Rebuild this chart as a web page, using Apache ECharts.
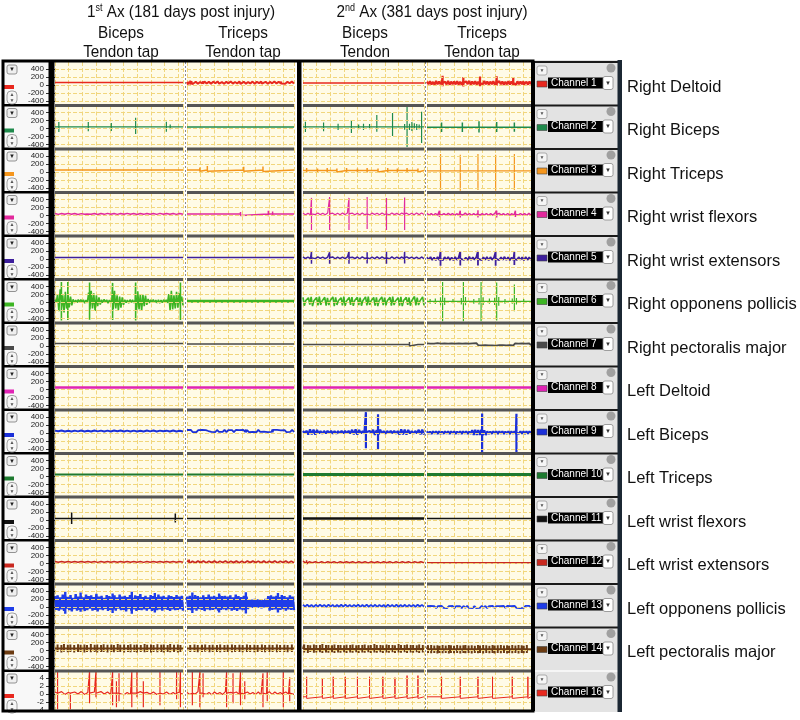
<!DOCTYPE html>
<html><head><meta charset="utf-8">
<script src="https://cdn.jsdelivr.net/npm/echarts@6/dist/echarts.min.js"></script>
<style>html,body{margin:0;padding:0;background:#fff}#c{width:800px;height:720px}</style>
</head><body><div id="c"></div><script>
// ---------------- DATA ----------------
const muscles = ['Right Deltoid','Right Biceps','Right Triceps','Right wrist flexors','Right wrist extensors','Right opponens pollicis','Right pectoralis major','Left Deltoid','Left Biceps','Left Triceps','Left wrist flexors','Left wrist extensors','Left opponens pollicis','Left pectoralis major',''];
const channels = ['Channel 1','Channel 2','Channel 3','Channel 4','Channel 5','Channel 6','Channel 7','Channel 8','Channel 9','Channel 10','Channel 11','Channel 12','Channel 13','Channel 14','Channel 16'];
const traceColors = ['#e8281e','#1f8a4c','#f5961d','#e2299c','#3d1f9c','#3db523','#4a4a4a','#e024b4','#1b30d8','#1e7a30','#111111','#c9281f','#1f3de8','#6b3b12','#e8281e'];
const emgTicks = [-400,-200,0,200,400];
const ch16Ticks = [-4,-2,0,2,4];
const titleLines = ['1{s|st} Ax (181 days post injury)','2{s|nd} Ax (381 days post injury)'];
const condLine1 = ['Biceps','Triceps','Biceps','Triceps'];
const condLine2 = ['Tendon tap','Tendon tap','Tendon','Tendon tap'];

const baselines = [
 [60,60,50,50],[40,40,40,30],[50,50,40,30],[40,40,40,30],[40,40,30,10],
 [30,30,30,30],[60,50,40,40],[50,50,50,50],[50,50,20,10],[50,50,50,50],
 [40,40,40,40],[40,40,30,20],[80,80,30,0],[50,50,40,30],[0.2,0.2,-0.7,-0.7]
];
const lineWidths = [
 [1.5,2,1.5,2.2],[1.2,1.5,1.2,1.5],[1.5,1.5,1.5,1.2],[1.5,1.5,1.2,1.5],[1.5,1.5,1.5,1.8],
 [1.6,3,1.6,1.2],[1.5,1.5,1.5,1.8],[2.5,2.5,2.5,2.5],[2,1.8,2.2,2.2],[2,2,3,3],
 [1.5,1.5,2.5,1.5],[1.5,1.8,1.5,1.5],[2.4,2.4,1.8,1.8],[2,2,2,2],[1.2,1.2,1,1]
];

// spikes: [x% of column, up, down] relative to baseline
const spikesR1 = [
 [[3,40,-30],[20,25,-20],[45,20,-20],[64,25,-25],[92,20,-15]],
 [[1,60,-50],[3,50,-45],[5,45,-40],[15,30,-25],[30,30,-25],[50,35,-30],[70,30,-25],[88,30,-25]],
 [[30,20,-15],[60,20,-15],[85,15,-15]],
 [[15,180,-80],[35,150,-90],[51,160,-80],[67,170,-70],[83,140,-70],[93,80,-40]]
];
const spikesR2 = [
 [[3,125,-125],[26,125,-110],[44,100,-100],[63,230,-180],[87,130,-120],[90,60,-60]],
 [[5,30,-30],[40,25,-20],[75,25,-20]],
 [[2,130,-130],[17,110,-110],[29,80,-80],[40,170,-150],[46,60,-60],[50,80,-80],[55,70,-60],[61,300,-120],[74,350,-230],[84,70,-70],[86,500,-500],[88,80,-80],[90,120,-100],[92,90,-60],[94,70,-80],[96,60,-60],[98,380,-400]],
 [[14,120,-120],[34,120,-120],[50,150,-130],[67,130,-120],[84,120,-110]]
];
const spikesR3 = [
 [[10,20,-20],[40,20,-15],[70,20,-20]],
 [[12,60,-30],[19,100,-30],[53,80,-30],[71,90,-40]],
 [[3,60,-50],[12,50,-50],[20,60,-50],[28,50,-40],[36,60,-50],[45,50,-50],[53,60,-50],[62,50,-40],[70,60,-50],[78,50,-50],[86,60,-50],[95,50,-40]],
 [[13,420,-480],[32,400,-500],[49,420,-480],[66,400,-500],[84,420,-480]]
];
const spikesR4 = [
 [[25,25,-20],[60,20,-20]],
 [[20,40,-30],[50,50,-40],[76,80,-60],[80,60,-50]],
 [[7,400,-400],[22,420,-400],[38,400,-400],[53,420,-380],[69,400,-400],[84,410,-400]],
 [[12,90,-70],[32,90,-80],[49,100,-80],[67,90,-80],[85,90,-70]]
];
const spikesR5 = [
 [],[],
 [[7,150,-150],[22,140,-150],[38,150,-150],[53,140,-140],[69,150,-150],[84,150,-140]],
 [[13,180,-180],[32,180,-170],[49,190,-170],[66,170,-180],[84,170,-160]]
];
const spikesR6 = [
 [[5,480,-480],[10,480,-470],[27,470,-460],[45,460,-470],[63,470,-480],[98,470,-470]],
 [],
 [],
 [[3,60,-60],[8,70,-70],[13,100,-100],[15,480,-500],[17,90,-90],[25,60,-50],[33,80,-80],[35,480,-500],[37,110,-100],[45,60,-60],[50,80,-80],[52,480,-500],[54,100,-90],[60,70,-60],[65,90,-90],[67,470,-480],[69,110,-110],[75,60,-60],[82,70,-60],[84,420,-250],[86,80,-80],[93,60,-60]]
];
const spikesR7 = [
 [[2,25,-20],[8,20,-20],[14,25,-20],[20,20,-15],[26,25,-20],[32,20,-20],[38,25,-20],[44,20,-15],[50,25,-20],[56,20,-20],[62,25,-20],[68,20,-15],[74,25,-20],[80,20,-20],[86,25,-20],[92,20,-15],[98,25,-20]],
 [[1,40,-30],[3,35,-35],[6,40,-30],[10,30,-30],[18,25,-25],[28,25,-20],[38,25,-25],[48,25,-20],[58,25,-25],[68,25,-20],[78,25,-25],[88,25,-20],[96,25,-25]],
 [[5,25,-20],[12,20,-20],[19,25,-20],[26,20,-20],[33,25,-20],[40,20,-20],[47,25,-20],[54,20,-20],[61,25,-20],[68,20,-20],[75,25,-20],[82,20,-20],[88,60,-40],[95,25,-20]],
 []
];
const spikesR8 = [[],[],[],[]];
const spikesR9 = [[],[[20,40,-30],[55,35,-30],[80,40,-30]],[[52,500,-400],[62,450,-420]],[[53,480,-520],[86,470,-520]]];
const spikesR10 = [[],[],[],[]];
const spikesR11 = [[[13,150,-140],[30,20,-20],[55,20,-15],[94,120,-100]],[],[],[]];
const spikesR12 = [[],[[2,60,-40]],[[3,50,-40]],[]];
const spikesR13 = [[[8,300,-250],[20,280,-200],[45,260,-230],[60,300,-250],[78,270,-220]],[[5,280,-230],[30,260,-220],[55,290,-240],[85,270,-220]],[],[]];
const spikesR14 = [
 [[2,100,-90],[5,90,-100],[7,110,-80],[10,95,-95],[12,100,-90],[15,85,-100],[18,105,-90],[20,95,-85],[23,100,-100],[25,90,-90],[28,110,-95],[31,95,-85],[33,100,-100],[36,90,-90],[38,105,-85],[41,95,-100],[44,100,-90],[46,90,-95],[49,110,-90],[51,95,-85],[54,100,-100],[57,90,-90],[59,105,-95],[62,95,-85],[64,100,-100],[67,90,-90],[70,110,-95],[72,95,-85],[75,100,-100],[77,90,-90],[80,105,-95],[83,95,-85],[85,100,-100],[88,90,-90],[90,110,-95],[93,95,-85],[96,100,-100],[98,90,-90]],
 [[3,90,-90],[7,100,-85],[10,85,-95],[14,95,-90],[17,100,-80],[21,90,-95],[24,95,-90],[28,85,-85],[31,100,-95],[35,90,-90],[38,95,-85],[42,100,-95],[45,85,-90],[49,95,-85],[52,90,-95],[56,100,-90],[59,85,-85],[63,95,-95],[66,90,-90],[70,100,-85],[73,85,-95],[77,95,-90],[80,90,-85],[84,100,-95],[87,85,-90],[91,95,-85],[94,90,-95],[98,100,-90]],
 [[1,110,-90],[4,100,-100],[6,90,-80],[9,110,-95],[11,95,-90],[14,100,-85],[16,120,-100],[19,95,-90],[21,100,-95],[24,90,-85],[26,110,-100],[29,95,-90],[31,100,-95],[34,90,-85],[36,105,-100],[39,95,-90],[41,110,-95],[44,90,-85],[46,100,-100],[49,95,-90],[51,110,-95],[54,90,-85],[56,100,-100],[59,120,-90],[61,95,-95],[64,100,-85],[66,90,-100],[69,110,-90],[71,95,-95],[74,100,-85],[76,90,-100],[79,120,-90],[81,95,-95],[84,100,-85],[86,110,-100],[89,95,-90],[91,100,-95],[94,90,-85],[96,110,-100],[99,95,-90]],
 [[1,100,-95],[4,110,-100],[7,95,-90],[10,100,-105],[12,90,-95],[15,105,-100],[18,95,-90],[21,110,-105],[23,100,-95],[26,90,-100],[29,105,-90],[32,95,-105],[35,100,-95],[37,110,-100],[40,95,-90],[43,100,-105],[46,90,-95],[49,105,-100],[51,95,-90],[54,110,-105],[57,100,-95],[60,90,-100],[63,105,-90],[65,95,-105],[68,100,-95],[71,110,-100],[74,95,-90],[77,100,-105],[79,90,-95],[82,105,-100],[85,95,-90],[88,110,-105],[91,100,-95],[93,90,-100],[96,105,-90]]
];
const spikesR15 = [
 [[2,5.5,-4],[12,0.5,-4],[27,5.5,-2.5],[32,5.5,-1],[45,5.3,-3],[48,3,-3.5],[50,5,-2],[60,5.3,-3.5],[64,5.3,-1],[69,3,-3.5],[82,5.3,-3],[95,5.5,-1.5],[98,5.5,-3.5]],
 [[5,5.3,-3],[12,5.3,-3.5],[15,5,-1],[37,5.3,-3.5],[43,5,-2.5],[50,5.3,-3],[54,3,-1.5],[71,5,-3.5],[75,5.3,-2],[90,5.3,-3.5],[96,4,-2]],
 [[3,5,-0.4],[16,4.5,-0.4],[25,5,-0.4],[35,5,-0.4],[45,5,-0.4],[55,5,-0.4],[66,5,-0.4],[76,4.8,-0.4],[86,5.3,-0.4],[95,5.3,-0.4]],
 [[14,5,-0.4],[32,5,-0.4],[49,5,-0.4],[63,5,-0.4],[82,5,-0.4],[97,5,-0.4]]
];

// noise: sample deviations spread evenly across the column
const noiseR1 = [[],
 [20,-25,30,-18,22,-30,15,-20,28,-22,18,-26,24,-15,30,-20,12,-28,20,-18,26,-24,16,-22,30,-16,20,-26,14,-20,24,-28,18,-14,26,-22,20,-30,16,-18,28,-20,22,-24,14,-26,20,-16,24,-20],
 [],
 [35,-30,42,-38,28,-45,50,-32,38,-28,45,-40,30,-36,55,-42,34,-30,40,-35,48,-38,32,-44,36,-30,42,-28,50,-40,35,-32,45,-38,30,-42,38,-34,52,-30,40,-36,34,-28,46,-40,32,-38,44,-30,36,-42,30,-34,48,-36,40,-30,35,-44,42,-32,38,-28,45,-36,30,-40,36,-30]];
const noiseR2 = [[],[],[],[]];
const noiseR3 = [[],[],[],[]];
const noiseR4 = [
 [10,-12,8,-10,14,-9,11,-13,7,-10,12,-8,10,-14,9,-11,13,-10,8,-12,11,-9,14,-10,8,-13,10,-11,12,-8,9,-12,13,-10,11,-9,8,-12,10,-10],
 [],
 [18,-20,14,-22,20,-16,24,-18,15,-20,22,-14,18,-24,16,-20,20,-18,25,-15,18,-22,14,-20,22,-18,16,-24,20,-16,18,-20,24,-14,16,-22,20,-18,14,-20,22,-16,18,-20,16,-22,20,-18,24,-16],
 [22,-18,16,-24,20,-20,26,-14,18,-22,24,-16,20,-26,14,-20,22,-18,28,-16,20,-24,16,-20,24,-18,18,-22,20,-26,16,-20,26,-16,22,-18,18,-24,20,-20,14,-22,24,-18,20,-16,18,-24,22,-20]];
const noiseR5 = [[],[],
 [20,-18,15,-22,18,-20,24,-16,16,-20,20,-15,22,-24,18,-18,16,-22,24,-20,15,-18,20,-24,22,-16,18,-20,16,-22,24,-18,20,-15,18,-24,22,-20,16,-18,20,-22,24,-16,18,-20,15,-24,20,-18],
 [35,-30,40,-38,30,-42,45,-35,32,-40,38,-30,44,-36,30,-45,40,-32,36,-40,42,-34,30,-38,46,-36,34,-30,40,-44,32,-38,36,-30,44,-40,38,-32,30,-42,40,-36,34,-30,45,-38,36,-40,30,-34,42,-36,38,-30,34,-44,40,-32,36,-38]];
const noiseR6 = [
 [40,-30,180,-250,300,-200,150,-280,240,-180,200,-150,120,-100,50,-40,30,-35,45,-30,40,-25,35,-45,30,-40,220,-200,260,-180,200,-240,150,-120,100,-80,40,-35,50,-30,35,-45,30,-40,45,-200,260,-180,150,-220,120,-160,100,-90,40,-35,30,-45,40,-30,35,-40,30,-230,250,-200,180,-240,160,-120,140,-90,60,-40,35,-30,45,-35,30,-40,35,-45,30,-35,40,-30,35,-40,180,-220,260,-200,150,-180,240,-160,200,-140,120,-100],
 [],
 [100,-110,20,-15,90,-80,110,-120,15,-20,95,-100,120,-90,10,-15,100,-110,85,-95,20,-10,110,-120,100,-90,15,-20,90,-100,120,-110,10,-15,95,-90,105,-115,20,-10,100,-95,90,-110,15,-20,110,-100,120,-90,10,-15,95,-105,100,-120,20,-10,110,-95,90,-100,15,-20,100,-110,120,-95,10,-15,90,-105,110,-120,20,-10,100,-90,95,-110,15,-20,120,-100,90,-95,10,-15,110,-100],
 []];
const noiseR7 = [[],[],[],
 [25,-22,18,-28,22,-20,30,-18,20,-25,26,-22,18,-30,24,-20,22,-26,28,-18,20,-24,26,-20,18,-28,24,-22,30,-20,22,-26,20,-18,28,-24,18,-22,26,-28,20,-20,24,-18,30,-26,22,-20,18,-24,26,-22,20,-28,24,-18,22,-26,28,-20]];
const noiseR8 = [[],[],[],[]];
const noiseR9 = [
 [10,-8,12,-10,8,-12,10,-9,11,-10,8,-11,12,-9,10,-12,9,-10,11,-8,12,-10,9,-11,10,-12,8,-10,11,-9,12,-10,10,-8,9,-12,11,-10,8,-11],
 [25,-20,30,-25,18,-28,24,-22,30,-18,22,-26,28,-20,20,-30,26,-24,18,-22,30,-26,24,-20,22,-28,26,-18,20,-24,28,-22,24,-30,18,-20,26,-26,30,-22,22,-18,24,-28,20,-24,28,-20,26,-22,18,-30,24,-26,22,-20,30,-24],
 [30,-25,35,-60,70,-55,65,-60,55,-30,25,-35,30,-28,35,-25,30,-32,28,-35,25,-30,35,-28,30,-25,32,-30,60,-55,70,-60,58,-30,28,-35,25,-30,32,-28,60,-65,55,-60,65,-30,25,-35,30,-28,35,-25,30,-32,28,-60,70,-55,65,-60,55,-30,25,-35,30,-28,60,-55,65,-60],
 [35,-30,28,-35,32,-28,35,-32,30,-35,28,-30,35,-28,32,-35,30,-28,35,-32,28,-30,35,-35,30,-28,32,-35,28,-30,60,-55,70,-60,65,-58,70,-62,55,-60,30,-35,28,-30,35,-28,32,-35,30,-28,35,-32,28,-30,35,-35,30,-28,32,-35,28,-30,35,-28,32,-35,30,-28,35,-32]];
const noiseR10 = [[],[],[],[]];
const noiseR11 = [[],[],[],[]];
const noiseR12 = [
 [10,-8,9,-11,8,-10,12,-9,10,-8,11,-10,9,-12,8,-10,10,-9,12,-8,9,-11,10,-10,8,-9,11,-12,10,-8,9,-10,12,-9,8,-11,10,-10,9,-8],
 [25,-20,18,-22,20,-18,22,-20,16,-18,20,-22,18,-16,22,-20,18,-18,20,-22,16,-20,22,-18,20,-16,18,-22,20,-20,16,-18,22,-20,18,-16,20,-22,18,-20],
 [30,-25,15,-12,14,-15,12,-14,15,-12,13,-15,14,-12,15,-13,12,-15,14,-12,13,-14,15,-12,14,-15,12,-13,15,-14,12,-15,13,-12,14,-15,12,-13,15,-12],
 []];
const noiseR13 = [
 [190,-150,210,-170,160,-140,230,-180,200,-120,170,-160,220,-190,150,-130,240,-170,180,-150,200,-140,160,-180,230,-160,190,-120,210,-170,170,-150,250,-190,180,-140,200,-160,150,-130,220,-180,190,-150,170,-140,210,-170,160,-120,230,-160,180,-150,200,-190,170,-130,220,-170,150,-140,210,-180,190,-150,240,-160,170,-140,200,-170,160,-130,220,-180,190,-150,170,-160,230,-140,180,-170,200,-130,160,-150,210,-180,190,-140,170,-160,220,-150,180,-130,200,-170],
 [180,-150,200,-160,170,-140,220,-170,190,-130,160,-150,210,-180,170,-140,230,-160,180,-150,200,-130,170,-170,220,-150,190,-140,200,-160,180,-130,210,-170,160,-150,230,-180,190,-140,170,-160,200,-150,180,-130,110,-90,100,-100,120,-80,110,-95,100,-110,90,-85,120,-100,190,-170,210,-150,180,-140,200,-160,170,-150,220,-130,190,-170,160,-140,210,-150,180,-160],
 [25,-20,30,-25,20,-28,26,-22,30,-18,22,-26,28,-20,24,-30,20,-24,26,-22,30,-20,22,-28,24,-18,28,-26,20,-22,30,-24,22,-20,26,-28,24,-22,20,-30,28,-20,22,-26,30,-24,20,-22,26,-28,24,-20,22,-26,30,-18,24,-22],
 [22,-26,28,-20,24,-30,20,-24,30,-22,26,-28,22,-20,28,-26,24,-22,20,-30,26,-24,30,-20,22,-28,24,-26,20,-22,28,-24,26,-30,22,-20,30,-26,24,-22,20,-28,26,-24,28,-20,22,-26,30,-22,24,-28,20,-24,26,-20,28,-26]];
const noiseR14 = [[],[],[],[]];
const noiseR15 = [
 [0.3,-0.2,0.4,-0.3,0.2,-0.3,0.3,-0.2,0.4,-0.3,0.2,-0.2,0.3,-0.3,0.4,-0.2,0.3,-0.3,0.2,-0.2,0.3,-0.4,0.2,-0.3,0.3,-0.2,0.4,-0.3,0.2,-0.2,0.3,-0.3,0.4,-0.2,0.3,-0.3,0.2,-0.4,0.3,-0.2],
 [0.2,-0.3,0.3,-0.2,0.4,-0.2,0.3,-0.3,0.2,-0.4,0.3,-0.2,0.2,-0.3,0.4,-0.3,0.2,-0.2,0.3,-0.3,0.4,-0.2,0.3,-0.2,0.2,-0.3,0.3,-0.4,0.2,-0.2,0.4,-0.3,0.3,-0.2,0.2,-0.3,0.3,-0.2,0.4,-0.3],
 [],[]];

const spikeRows = [spikesR1,spikesR2,spikesR3,spikesR4,spikesR5,spikesR6,spikesR7,spikesR8,spikesR9,spikesR10,spikesR11,spikesR12,spikesR13,spikesR14,spikesR15];
const noiseRows = [noiseR1,noiseR2,noiseR3,noiseR4,noiseR5,noiseR6,noiseR7,noiseR8,noiseR9,noiseR10,noiseR11,noiseR12,noiseR13,noiseR14,noiseR15];

// ---------------- LAYOUT ----------------
const TOP0 = 62, ROWH = 43.5;
const colLeft = [55,187,303,427];
const colWidth = [128,107,121,104];
const xInterval = [10.7,12.8,11.3,13.2];
const FONT = 'Liberation Sans, Arial, sans-serif';
function rowTop(r){ return TOP0 + r*ROWH; }
function rowHeight(r){ return r < 14 ? ROWH : 39; }

function buildTrace(base, spikes, noise){
  const pts = [];
  if (noise && noise.length){
    const n = noise.length;
    noise.forEach((v,i)=>pts.push([i*100/(n-1), base+v]));
  } else {
    pts.push([0,base],[100,base]);
  }
  spikes.forEach(s=>{ pts.push([s[0],base],[s[0],base+s[1]],[s[0],base+s[2]],[s[0],base]); });
  pts.sort((a,b)=>a[0]-b[0]);
  return pts;
}

const grids=[], xAxes=[], yAxes=[], series=[];
const gridLine = {color:'#f1d67c', type:'dashed', width:1};
for (let r=0;r<15;r++){
  for (let c=0;c<4;c++){
    const k = r*4+c, last = r===14;
    const ticks = last ? ch16Ticks : emgTicks;
    grids.push({left:colLeft[c], top:rowTop(r), width:colWidth[c], height:rowHeight(r), show:true, backgroundColor:'#fffbe6', borderWidth:0, containLabel:false, outerBoundsMode:'none'});
    xAxes.push({gridIndex:k, type:'value', min:0, max:100, interval:xInterval[c], axisLine:{show:false}, axisTick:{show:false}, axisLabel:{show:false}, splitLine:{show:true, lineStyle:gridLine}});
    yAxes.push({gridIndex:k, type:'value', min: last ? -4 : -512, max: last ? 5.75 : 575, z:12,
      axisLine:{show:false},
      axisTick:{show:c===0, customValues:ticks, length:9, lineStyle:{color:'#333', width:1}},
      axisLabel:{show:c===0, customValues:ticks, fontSize:8, color:'#222', margin:11, fontFamily:FONT},
      splitLine:{show:true, lineStyle:gridLine}});
    series.push({type:'line', xAxisIndex:k, yAxisIndex:k, data:buildTrace(baselines[r][c], spikeRows[r][c], noiseRows[r][c]),
      symbol:'none', showSymbol:false, clip:true, silent:true, animation:false, z:3,
      lineStyle:{color:traceColors[r], width:lineWidths[r][c]}});
  }
}

// ---------------- DECORATION ----------------
const g = [];
g.push({type:'rect', shape:{x:3,y:61,width:46,height:650}, style:{fill:'#f8f8f8'}, z:-5});
g.push({type:'rect', shape:{x:534,y:60,width:84,height:652}, style:{fill:'#e3e3e3'}, z:-5});
for (let r=0;r<15;r++){
  const t=rowTop(r), h=rowHeight(r);
  if (r<14) g.push({type:'rect', shape:{x:3,y:t+h-1.5,width:46,height:2.5}, style:{fill:'#000'}, z:20});
  g.push({type:'rect', shape:{x:7,y:t+3,width:10,height:9,r:2}, style:{fill:'#efefef',stroke:'#7a7a7a',lineWidth:0.8}, z:21});
  g.push({type:'text', x:12, y:t+7.5, style:{text:'▼', fontSize:6, fill:'#222', align:'center', verticalAlign:'middle'}, z:22});
  g.push({type:'rect', shape:{x:4,y:t+23,width:10,height:4}, style:{fill:traceColors[r]}, z:21});
  g.push({type:'rect', shape:{x:7,y:t+29,width:10,height:13,r:4}, style:{fill:'#f6f6f6',stroke:'#8a8a8a',lineWidth:0.8}, z:21});
  g.push({type:'text', x:12, y:t+32.5, style:{text:'▲', fontSize:5, fill:'#555', align:'center', verticalAlign:'middle'}, z:22});
  g.push({type:'text', x:12, y:t+38.5, style:{text:'▼', fontSize:5, fill:'#555', align:'center', verticalAlign:'middle'}, z:22});
  if (r<14) for (let c=0;c<4;c++) g.push({type:'rect', shape:{x:colLeft[c],y:t+h-1.5,width:colWidth[c],height:3}, style:{fill:'#555'}, z:15});
  // channel panel
  g.push({type:'rect', shape:{x:534,y:t-1,width:84,height:2}, style:{fill: r===14 ? '#f6f6f6' : '#1a1a1a'}, z:20});
  g.push({type:'rect', shape:{x:537,y:t+4,width:10,height:9,r:2}, style:{fill:'#f5f5f5',stroke:'#999',lineWidth:0.8}, z:21});
  g.push({type:'text', x:542, y:t+8.5, style:{text:'▼', fontSize:5, fill:'#555', align:'center', verticalAlign:'middle'}, z:22});
  g.push({type:'circle', shape:{cx:611,cy:t+6,r:4.5}, style:{fill:'#a0a0a0'}, z:21});
  g.push({type:'rect', shape:{x:537,y:t+19,width:10,height:6}, style:{fill:traceColors[r],stroke:'#444',lineWidth:0.6}, z:21});
  g.push({type:'rect', shape:{x:548,y:t+15.5,width:55,height:11}, style:{fill:'#000'}, z:21});
  g.push({type:'text', x:551, y:t+21, style:{text:channels[r], fontSize:10, fill:'#fff', fontFamily:FONT, align:'left', verticalAlign:'middle'}, z:22});
  g.push({type:'rect', shape:{x:603,y:t+14.5,width:10,height:13,r:2}, style:{fill:'#fff',stroke:'#888',lineWidth:0.8}, z:21});
  g.push({type:'text', x:608, y:t+21, style:{text:'▼', fontSize:6, fill:'#333', align:'center', verticalAlign:'middle'}, z:22});
  if (muscles[r]) g.push({type:'text', x:627, y:t+25, style:{text:muscles[r], fontSize:16.5, fill:'#111', fontFamily:FONT, align:'left', verticalAlign:'middle'}, z:22});
}
// dashed separators
[185.5,425.5].forEach(x=>g.push({type:'line', shape:{x1:x,y1:62,x2:x,y2:710}, style:{stroke:'#8a8a8a',lineWidth:1,lineDash:[2,2]}, z:25}));
// frame
g.push({type:'rect', shape:{x:3,y:61,width:530,height:650}, style:{fill:'none',stroke:'#000',lineWidth:3}, z:30});
g.push({type:'rect', shape:{x:48.5,y:61,width:6,height:650}, style:{fill:'#000'}, z:30});
g.push({type:'rect', shape:{x:297,y:61,width:4.5,height:650}, style:{fill:'#000'}, z:30});
g.push({type:'rect', shape:{x:531,y:61,width:4,height:650}, style:{fill:'#000'}, z:30});
g.push({type:'rect', shape:{x:617.5,y:60,width:4.5,height:652}, style:{fill:'#1b2733'}, z:30});
// headers
const titleX = [181,432], condX = [121,243,365,482];
titleLines.forEach((tx,i)=>g.push({type:'text', x:titleX[i], y:12, scaleX:0.9, style:{text:tx, fontSize:17, fill:'#111', fontFamily:FONT, align:'center', verticalAlign:'middle', rich:{s:{fontSize:10, verticalAlign:'top', fontFamily:FONT, fill:'#111', padding:[0,0,8,0]}}}, z:30}));
condLine1.forEach((tx,i)=>g.push({type:'text', x:condX[i], y:33, scaleX:0.9, style:{text:tx, fontSize:17, fill:'#111', fontFamily:FONT, align:'center', verticalAlign:'middle'}, z:30}));
condLine2.forEach((tx,i)=>g.push({type:'text', x:condX[i], y:52, scaleX:0.9, style:{text:tx, fontSize:17, fill:'#111', fontFamily:FONT, align:'center', verticalAlign:'middle'}, z:30}));

const chart = echarts.init(document.getElementById('c'), null, {renderer:'canvas'});
chart.setOption({animation:false, backgroundColor:'#ffffff', grid:grids, xAxis:xAxes, yAxis:yAxes, series:series, graphic:{elements:g}});
</script></body></html>
